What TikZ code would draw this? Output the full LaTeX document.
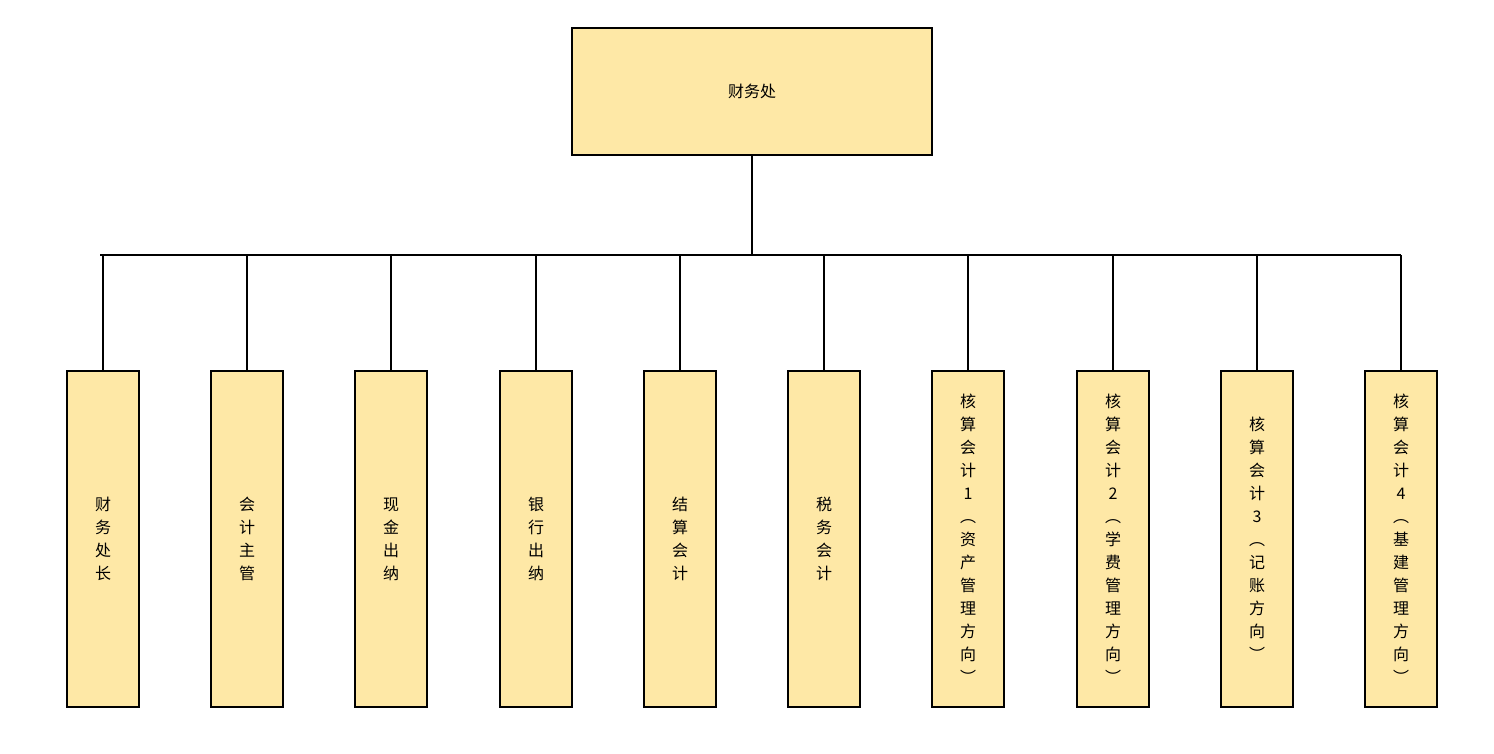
\documentclass[tikz,border=0pt]{standalone}
\usepackage{fontspec}
\newfontfamily\cjk{Noto Sans CJK SC}
\begin{document}
\begin{tikzpicture}[x=1pt,y=-1pt,
  box/.style={draw=black,line width=1.5pt,fill=yellow!30!orange!35!white,fill={rgb,255:red,254;green,232;blue,166},inner sep=0pt},
  lbl/.style={font=\cjk\fontsize{16}{23}\selectfont,align=center},
  ln/.style={line width=1.6pt}]
\useasboundingbox (0,0) rectangle (1494,753);
\node[box,minimum width=360pt,minimum height=127pt] (top) at (752,91.5) {};
\node[lbl] at (top) {财务处};
\coordinate (hb) at (752,255);
\draw[ln] (top.south) -- (hb);
\draw[ln] (100,255) coordinate (bl) -- (1401,255) coordinate (br);
\foreach \x/\n/\t in {
 103/a/{财\\务\\处\\长},
 247/b/{会\\计\\主\\管},
 391/c/{现\\金\\出\\纳},
 536/d/{银\\行\\出\\纳},
 680/e/{结\\算\\会\\计},
 824/f/{税\\务\\会\\计},
 968/g/{核\\算\\会\\计\\1\\︵\\资\\产\\管\\理\\方\\向\\︶},
 1113/h/{核\\算\\会\\计\\2\\︵\\学\\费\\管\\理\\方\\向\\︶},
 1257/i/{核\\算\\会\\计\\3\\︵\\记\\账\\方\\向\\︶},
 1401/j/{核\\算\\会\\计\\4\\︵\\基\\建\\管\\理\\方\\向\\︶}}{
  \node[box,minimum width=72pt,minimum height=336pt] (\n) at (\x,539) {};
  \node[lbl] (t\n) at (\n) {\t};
  \coordinate (c\n) at (\x,255);
  \draw[ln] (c\n) -- (\n.north);
}
\end{tikzpicture}
\end{document}
